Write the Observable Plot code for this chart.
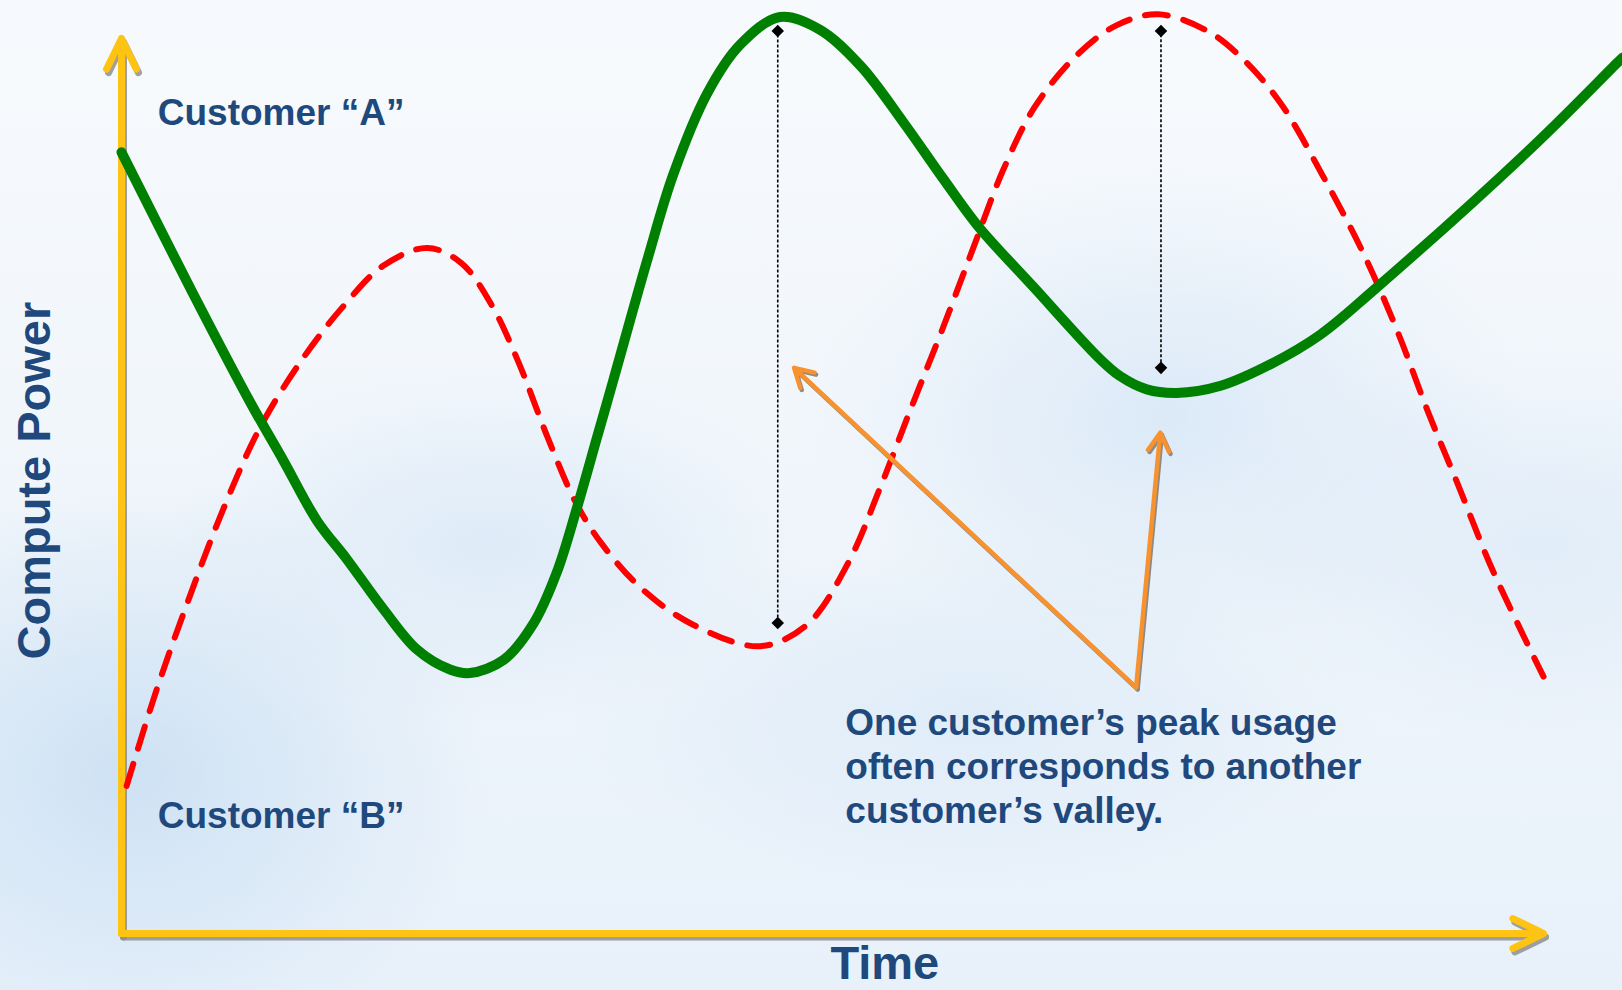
<!DOCTYPE html>
<html>
<head>
<meta charset="utf-8">
<script src="https://cdn.jsdelivr.net/npm/d3@7"></script>
<script src="https://cdn.jsdelivr.net/npm/@observablehq/plot@0.6"></script>
<style>
  html, body { margin: 0; padding: 0; }
  body {
    width: 1622px; height: 990px; overflow: hidden;
    font-family: "Liberation Sans", Arial, sans-serif;
    background:
      radial-gradient(ellipse 22% 30% at 8% 78%, rgba(196,220,242,0.75), rgba(196,220,242,0) 100%),
      radial-gradient(ellipse 20% 18% at 30% 55%, rgba(210,228,246,0.6), rgba(210,228,246,0) 100%),
      radial-gradient(ellipse 22% 25% at 72% 42%, rgba(205,225,245,0.6), rgba(205,225,245,0) 100%),
      radial-gradient(ellipse 25% 18% at 60% 72%, rgba(212,230,247,0.55), rgba(212,230,247,0) 100%),
      radial-gradient(ellipse 20% 20% at 95% 55%, rgba(210,228,246,0.5), rgba(210,228,246,0) 100%),
      linear-gradient(#f7fafd 0%, #f1f6fb 45%, #e8f1fa 100%);
  }
  #chart svg { display: block; }
</style>
</head>
<body>
<div id="chart"></div>
<script>
// Customer "A" (solid green) — time vs. compute power
const timeA  = [0, 4.9, 9.07, 11.4, 13.76, 15.86, 18.44, 20.8, 23.1, 24.5, 26.9, 29.0, 30.6, 32.0, 33.4, 34.6, 37.0, 38.8, 41.2, 43.5, 46.3, 49.1, 52.0, 55.0, 57.8, 60.2, 64.1, 68.8, 70.2, 72.1, 74.2, 77.3, 80.8, 84.3, 88.0, 99.3, 105.2, 105.6];
const powerA = [87.3, 71.9, 59.3, 52.8, 46.1, 41.8, 36.2, 31.7, 29.5, 29.1, 30.6, 34.7, 40.3, 47.4, 55.2, 61.9, 75.4, 84.8, 93.9, 99.3, 102.4, 101.0, 96.9, 90.6, 84.3, 79.1, 72.3, 64.2, 62.3, 60.8, 60.4, 61.2, 63.6, 66.9, 71.8, 88.0, 97.3, 97.9];

// Customer "B" (dashed red)
const timeB  = [0.36, 2.4, 4.6, 7.1, 9.7, 12.6, 15.5, 18.4, 21.5, 23.9, 26.0, 27.9, 30.0, 31.9, 33.7, 36.6, 40.2, 44.9, 48.2, 51.1, 53.3, 55.5, 57.7, 59.9, 62.0, 64.2, 67.1, 70.0, 72.9, 76.3, 78.8, 81.5, 84.5, 87.3, 89.7, 91.9, 94.0, 96.2, 98.4, 100.0];
const powerB = [16.5, 26.9, 36.8, 47.2, 56.4, 63.9, 69.9, 74.6, 76.6, 74.9, 70.3, 63.9, 55.3, 48.3, 43.7, 38.5, 34.5, 32.1, 34.5, 41.4, 49.6, 58.6, 67.4, 76.6, 85.3, 92.3, 98.0, 101.5, 102.7, 100.9, 97.8, 92.8, 84.6, 76.1, 67.4, 58.2, 50.1, 41.4, 33.9, 28.7];

// Peak/valley gap markers
const gapTime  = [46.15, 73.1];
const gapLow   = [34.7, 63.2];
const gapHigh  = [100.85, 100.85];

// Callout arrows (shared tail)
const calloutTail = {time: 71.35, power: 27.5};
const calloutTipTime  = [47.3, 73.05];
const calloutTipPower = [63.2, 55.95];

// Labels
const labelA = "Customer \u201CA\u201D";
const labelB = "Customer \u201CB\u201D";
const calloutText = ["One customer\u2019s peak usage", "often corresponds to another", "customer\u2019s valley."];
const yTitle = "Compute Power";
const xTitle = "Time";

// ---- build tables from arrays ----
const seriesA = timeA.map((t, i) => ({time: t, power: powerA[i]}));
const seriesB = timeB.map((t, i) => ({time: t, power: powerB[i]}));
const gaps = gapTime.map((t, i) => ({time: t, low: gapLow[i], high: gapHigh[i]}));
const gapEnds = gaps.flatMap(g => [{time: g.time, power: g.low}, {time: g.time, power: g.high}]);
const callouts = calloutTipTime.map((t, i) => ({x1: calloutTail.time, y1: calloutTail.power, x2: t, y2: calloutTipPower[i]}));
const axes = [{x1: 0, y1: 0, x2: 0, y2: 100}, {x1: 0, y1: 0, x2: 100, y2: 0}];

const navy = "#1F497D";
const font = "'Liberation Sans', Arial, sans-serif";

const chart = Plot.plot({
  width: 1622,
  height: 990,
  marginLeft: 121,
  marginRight: 79,
  marginTop: 38,
  marginBottom: 57,
  style: {background: "transparent", overflow: "visible", fontFamily: font},
  x: {domain: [0, 100], axis: null},
  y: {domain: [0, 100], axis: null},
  marks: [
    // axis shadows
    Plot.arrow(axes, {x1: "x1", y1: "y1", x2: "x2", y2: "y2", stroke: "#8f8f8f", strokeOpacity: 0.85, strokeWidth: 7, headLength: 7.3, headAngle: 52, dx: 2, dy: 3.5, strokeLinecap: "round", strokeLinejoin: "round"}),
    // axes
    Plot.arrow(axes, {x1: "x1", y1: "y1", x2: "x2", y2: "y2", stroke: "#FFC313", strokeWidth: 7, headLength: 7.3, headAngle: 52, strokeLinecap: "round", strokeLinejoin: "round"}),
    // customer B
    Plot.line(seriesB, {x: "time", y: "power", stroke: "#FF0000", strokeWidth: 6, strokeDasharray: "23,16", curve: "catmull-rom"}),
    // customer A
    Plot.line(seriesA, {x: "time", y: "power", stroke: "#008000", strokeWidth: 10, curve: "catmull-rom"}),
    // gap rules
    Plot.ruleX(gaps, {x: "time", y1: "low", y2: "high", stroke: "#000", strokeWidth: 1.6, strokeDasharray: "3,2"}),
    Plot.dot(gapEnds, {x: "time", y: "power", symbol: "square", r: 5, rotate: 45, fill: "#000", stroke: "none"}),
    // callout arrows
    Plot.arrow(callouts, {x1: "x1", y1: "y1", x2: "x2", y2: "y2", stroke: "#8a8a8a", strokeWidth: 4.5, headLength: 7, headAngle: 60, dx: 1.5, dy: 2, strokeLinecap: "round", strokeLinejoin: "round"}),
    Plot.arrow(callouts, {x1: "x1", y1: "y1", x2: "x2", y2: "y2", stroke: "#F7922E", strokeWidth: 4.5, headLength: 7, headAngle: 60, strokeLinecap: "round", strokeLinejoin: "round"}),
    // labels
    Plot.text([labelA], {x: 2.55, y: 91.7, text: d => d, textAnchor: "start", lineAnchor: "middle", fontSize: 37, fontWeight: "bold", fill: navy}),
    Plot.text([labelB], {x: 2.55, y: 13.06, text: d => d, textAnchor: "start", lineAnchor: "middle", fontSize: 37, fontWeight: "bold", fill: navy}),
    Plot.text([calloutText.join("\n")], {x: 50.9, y: 18.84, text: d => d, textAnchor: "start", lineAnchor: "middle", lineHeight: 1.2, fontSize: 37, fontWeight: "bold", fill: navy}),
    Plot.text([yTitle], {x: -6.1, y: 50.6, text: d => d, rotate: -90, textAnchor: "middle", lineAnchor: "middle", fontSize: 47, fontWeight: "bold", fill: navy}),
    Plot.text([xTitle], {x: 53.68, y: -3.35, text: d => d, textAnchor: "middle", lineAnchor: "middle", fontSize: 47, fontWeight: "bold", fill: navy})
  ]
});
document.getElementById("chart").appendChild(chart);
</script>
</body>
</html>
